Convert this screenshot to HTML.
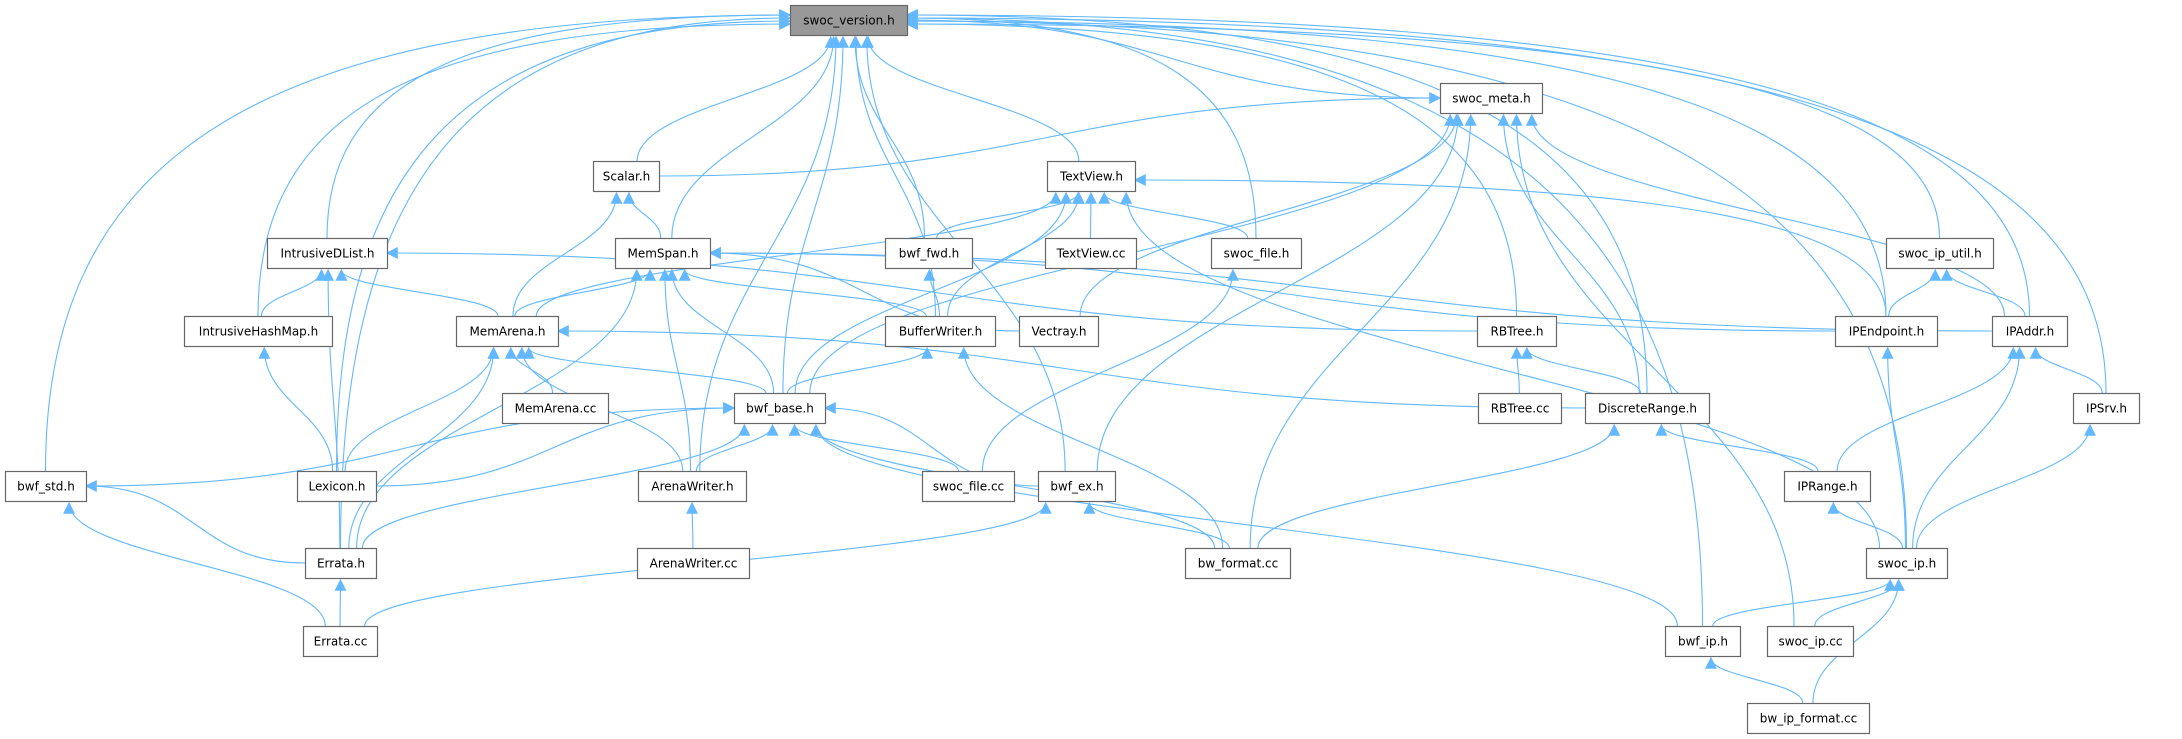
<!DOCTYPE html>
<html><head><meta charset="utf-8"><style>
html,body{margin:0;padding:0;background:#fff;}
svg{display:block}
text{font-family:"DejaVu Sans","Liberation Sans",sans-serif;font-size:12px;fill:#000}
</style></head><body>
<svg id="g" width="2182" height="739" viewBox="0 0 2182 739" xmlns="http://www.w3.org/2000/svg">
<defs><marker id="a" viewBox="0 0 10 10" refX="9" refY="5" markerWidth="12" markerHeight="12" markerUnits="userSpaceOnUse" orient="auto"><path d="M0,0L10,5L0,10z" fill="#63b8ff"/></marker></defs>
<g id="e" fill="none" stroke="#63b8ff" stroke-width="1.1"></g>
<g id="n"></g>
</svg>
<script>
var N={
sv:[790,5,117,"swoc_version.h"],
meta:[1440,83,102,"swoc_meta.h"],
scalar:[593,161,66,"Scalar.h"],
tvh:[1047,161,88,"TextView.h"],
idl:[267,238,120,"IntrusiveDList.h"],
ms:[615,238,95,"MemSpan.h"],
fwd:[885,238,87,"bwf_fwd.h"],
tvcc:[1045,238,91,"TextView.cc"],
sfh:[1211,238,90,"swoc_file.h"],
ipu:[1886,238,107,"swoc_ip_util.h"],
ihm:[184,316,148,"IntrusiveHashMap.h"],
ma:[456,316,102,"MemArena.h"],
bw:[885,316,110,"BufferWriter.h"],
vec:[1019,316,79,"Vectray.h"],
rbt:[1477,316,79,"RBTree.h"],
ipe:[1835,316,102,"IPEndpoint.h"],
ipa:[1992,316,75,"IPAddr.h"],
macc:[502,393,106,"MemArena.cc"],
base:[734,393,91,"bwf_base.h"],
rbcc:[1478,393,83,"RBTree.cc"],
dr:[1585,393,124,"DiscreteRange.h"],
srv:[2073,393,66,"IPSrv.h"],
std:[5,471,81,"bwf_std.h"],
lex:[297,471,79,"Lexicon.h"],
aw:[638,471,108,"ArenaWriter.h"],
sfcc:[922,471,92,"swoc_file.cc"],
ex:[1038,471,77,"bwf_ex.h"],
ipr:[1784,471,86,"IPRange.h"],
err:[305,548,71,"Errata.h"],
awcc:[637,548,112,"ArenaWriter.cc"],
bwf:[1185,548,105,"bw_format.cc"],
ip:[1866,548,81,"swoc_ip.h"],
ecc:[303,626,74,"Errata.cc"],
bip:[1665,626,75,"bwf_ip.h"],
ipcc:[1767,626,86,"swoc_ip.cc"],
bipf:[1747,703,122,"bw_ip_format.cc"]};
var E=[
["std","sv"],["err","sv"],["lex","sv"],["ihm","sv"],["idl","sv"],["aw","sv"],["scalar","sv"],["ms","sv"],["base","sv"],["ex","sv"],["bw","sv"],["fwd","sv"],["tvh","sv"],["sfh","sv"],["meta","sv"],["rbt","sv"],["dr","sv"],["bip","sv"],["ipe","sv"],["ipu","sv"],["ipa","sv"],["srv","sv"],["ip","sv"],
["scalar","meta"],["base","meta"],["vec","meta"],["ex","meta"],["bwf","meta"],["dr","meta"],["ipcc","meta"],["ipa","meta"],
["ms","scalar"],["ma","scalar"],
["ma","tvh"],["fwd","tvh"],["tvcc","tvh"],["sfh","tvh"],["bw","tvh"],["base","tvh"],["ipe","tvh"],["ip","tvh"],
["ihm","idl"],["ma","idl"],["err","idl"],["rbt","idl"],
["ma","ms"],["aw","ms"],["base","ms"],["err","ms"],["bw","ms"],["vec","ms"],["ipe","ms"],["ipa","ms"],
["bw","fwd"],["sfcc","sfh"],["ipe","ipu"],["ipa","ipu"],["lex","ihm"],
["macc","ma"],["base","ma"],["lex","ma"],["err","ma"],["aw","ma"],["dr","ma"],
["base","bw"],["bwf","bw"],["rbcc","rbt"],["dr","rbt"],["ip","ipe"],
["ipr","ipa"],["ip","ipa"],["srv","ipa"],
["std","base"],["lex","base"],["aw","base"],["sfcc","base"],["ex","base"],["err","base"],["bwf","base"],["bip","base"],
["awcc","aw"],["err","std"],["ecc","std"],["ecc","err"],["bwf","ex"],["ecc","ex"],
["bwf","dr"],["ipr","dr"],["ip","ipr"],["ip","srv"],["bip","ip"],["ipcc","ip"],["bipf","ip"],["bipf","bip"]];
var H=30,eg=document.getElementById("e"),ng=document.getElementById("n"),NS="http://www.w3.org/2000/svg";
E.forEach(function(p,i){var s=N[p[0]],t=N[p[1]];
var scx=s[0]+s[2]/2,tcx=t[0]+t[2]/2,dy=s[1]-(t[1]+H),dx=tcx-scx,d;
var sweep=(p[1]=="sv")?Math.abs(dx)>260:Math.abs(dx)>6*Math.max(dy,1);
if(sweep&&dy<60){
 var sx,tx,sy=s[1]+H/2,ty=t[1]+H/2;
 if(dx<0){sx=s[0];tx=t[0]+t[2];}else{sx=s[0]+s[2];tx=t[0];}
 var mx=(sx+tx)/2;
 d="M"+sx+","+sy+" C"+mx+","+sy+" "+mx+","+ty+" "+tx+","+ty;
}else if(sweep){
 var sx=scx,sy=s[1],tx=(dx<0)?t[0]+t[2]:t[0],ty=t[1]+10+(i*3)%12;
 d="M"+sx+","+sy+" C"+sx+","+(ty+(sy-ty)*0.35)+" "+(sx+(tx-sx)*0.25)+","+ty+" "+tx+","+ty;
}else{
 var sy2=s[1],ty2=t[1]+H,ex=tcx+Math.max(-t[2]/2.5,Math.min(t[2]/2.5,dx*-0.08));
 var sxx=scx+Math.max(-s[2]/3,Math.min(s[2]/3,dx*0.05));
 var k=(sy2-ty2)*0.45;
 d="M"+sxx+","+sy2+" C"+sxx+","+(sy2-k)+" "+ex+","+(ty2+k)+" "+ex+","+(ty2+2);
}
var pa=document.createElementNS(NS,"path");pa.setAttribute("d",d);pa.setAttribute("marker-end","url(#a)");eg.appendChild(pa);});
for(var k in N){var v=N[k];
var r=document.createElementNS(NS,"rect");r.setAttribute("x",v[0]+0.5);r.setAttribute("y",v[1]+0.5);r.setAttribute("width",v[2]);r.setAttribute("height",H);
r.setAttribute("fill",k=="sv"?"#999999":"#ffffff");r.setAttribute("stroke","#666");r.setAttribute("stroke-width","1.2");ng.appendChild(r);
var t=document.createElementNS(NS,"text");t.setAttribute("x",v[0]+v[2]/2+0.5);t.setAttribute("y",v[1]+19.5);t.setAttribute("text-anchor","middle");t.textContent=v[3];ng.appendChild(t);}
</script>
</body></html>
